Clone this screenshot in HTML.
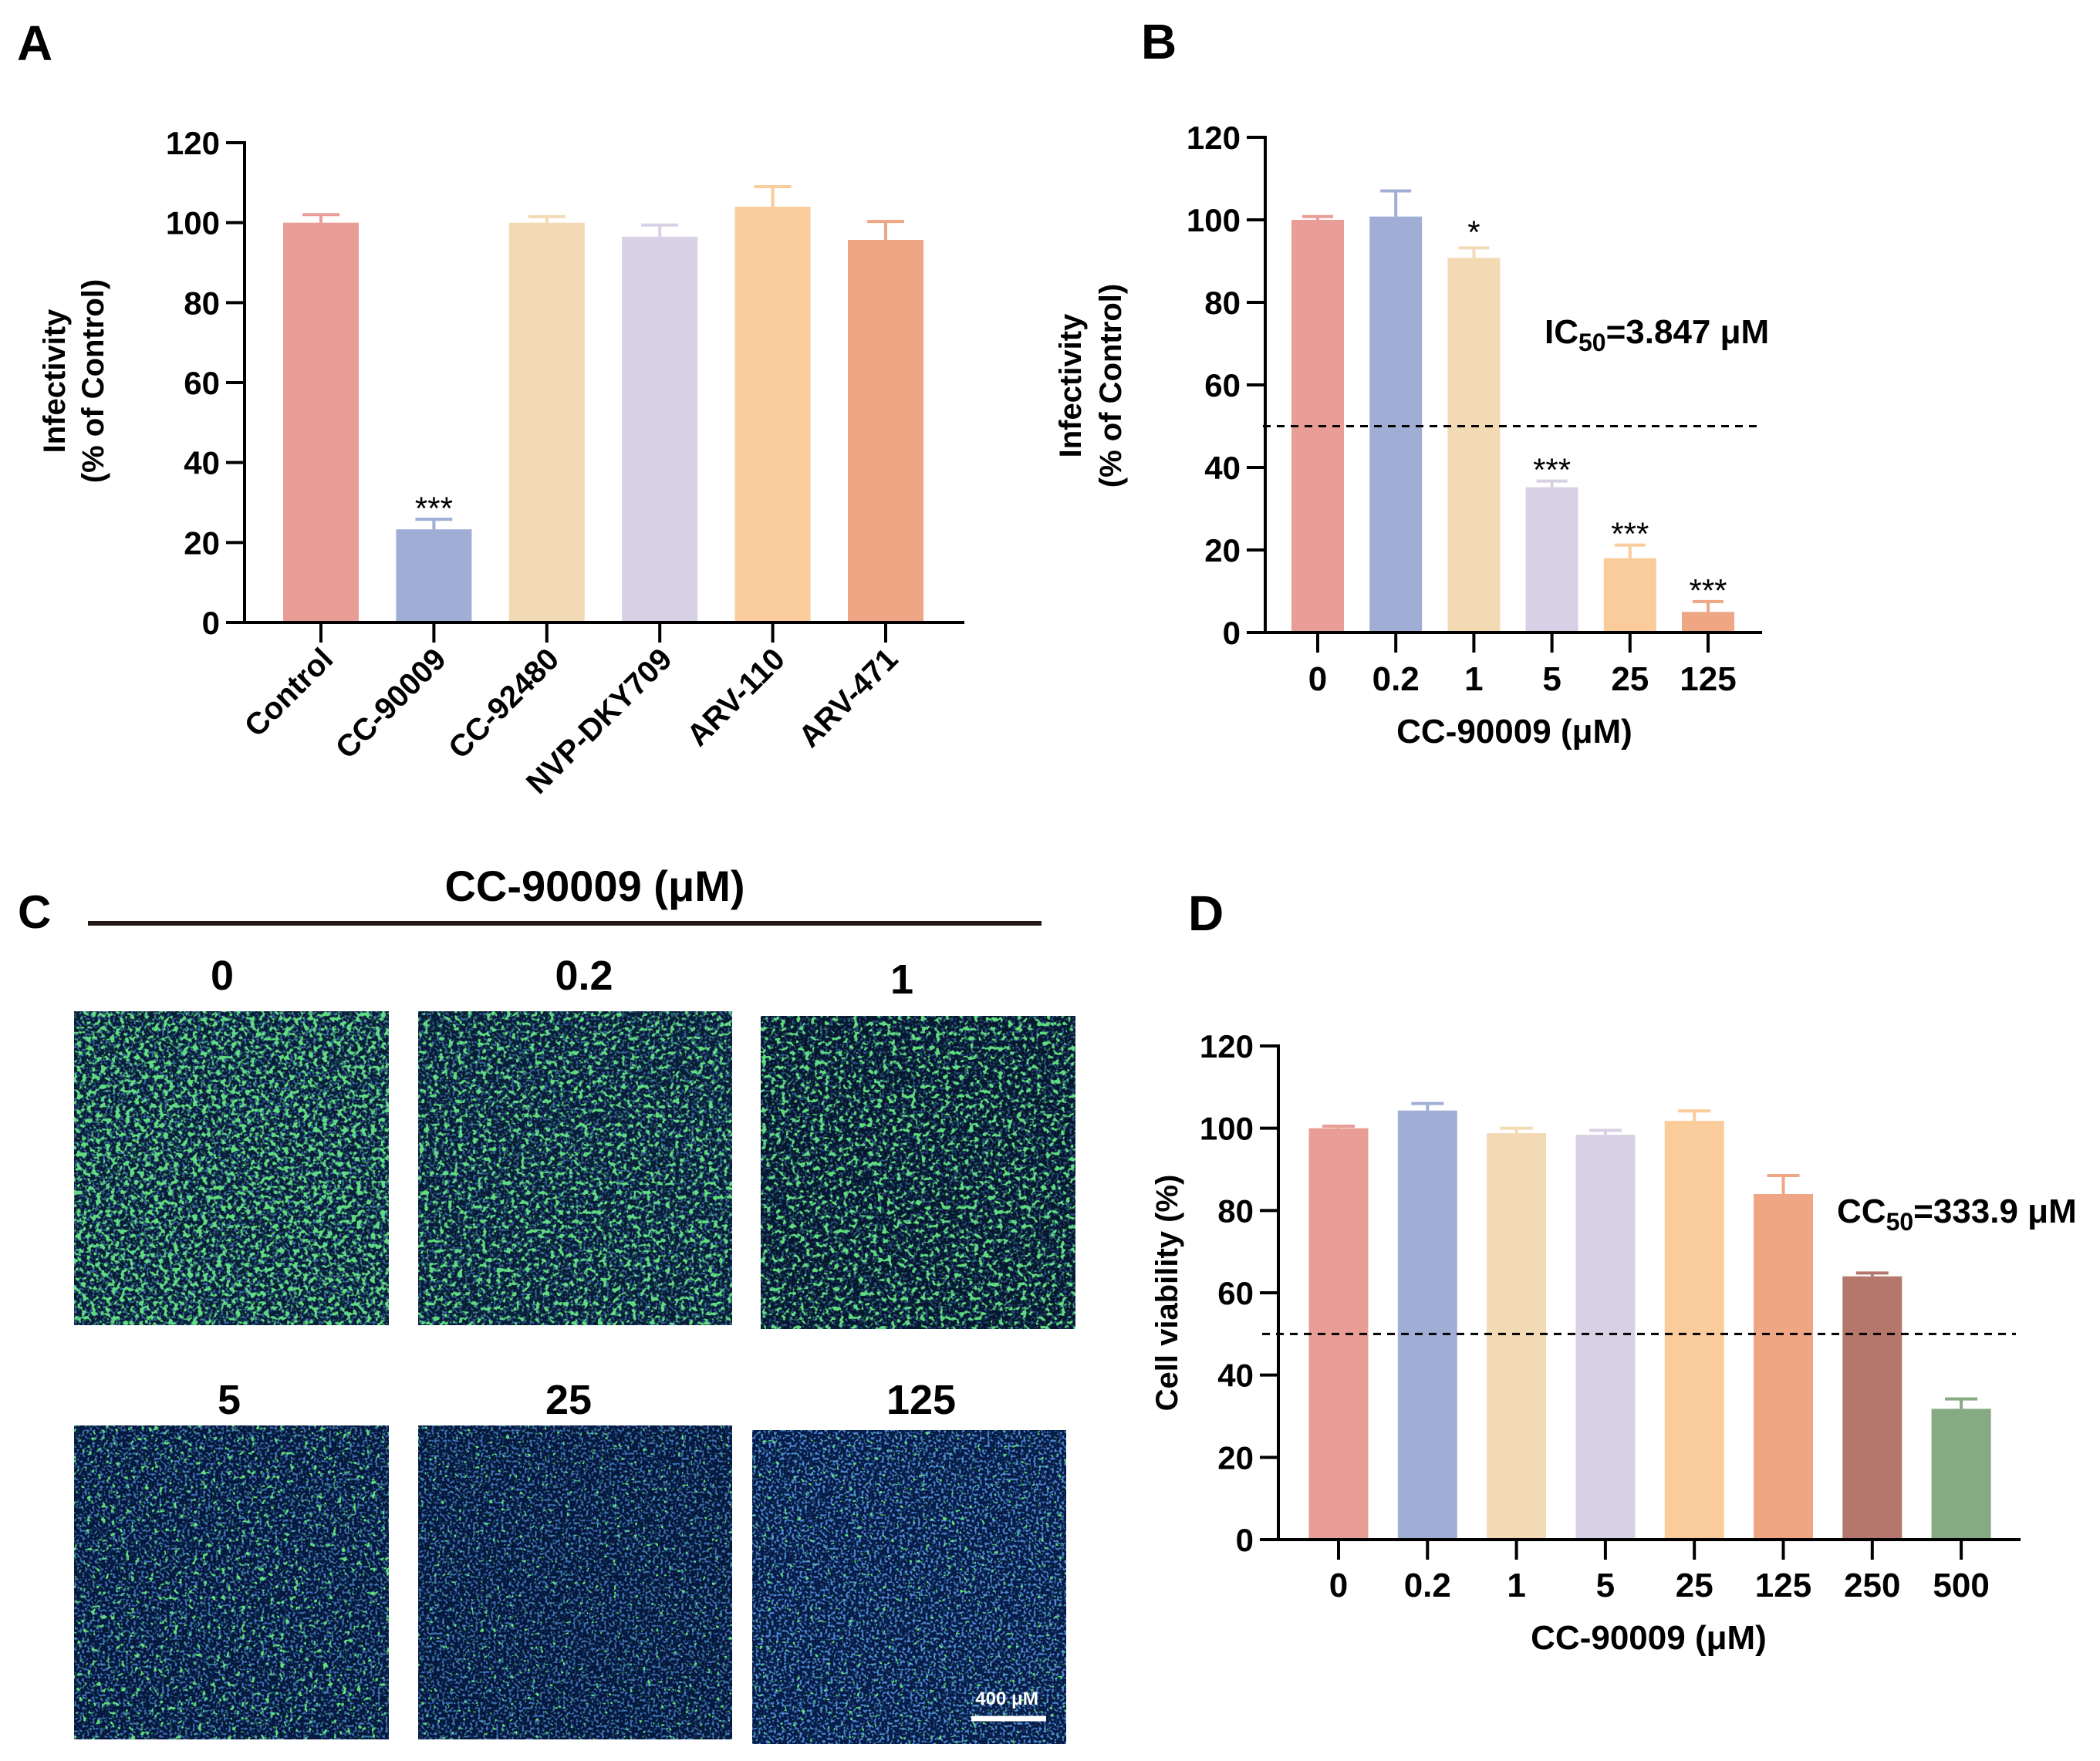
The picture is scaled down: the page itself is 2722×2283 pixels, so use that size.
<!DOCTYPE html>
<html><head><meta charset="utf-8">
<style>
html,body{margin:0;padding:0;background:#fff;}
svg{display:block;}
text{font-family:"Liberation Sans",Arial,sans-serif;font-weight:bold;fill:#000;}
</style></head>
<body>
<svg id="fig" width="2722" height="2283" viewBox="0 0 2722 2283" xmlns="http://www.w3.org/2000/svg">
<defs>
  <filter id="fb" x="0" y="0" width="100%" height="100%">
    <feTurbulence type="fractalNoise" baseFrequency="0.3" numOctaves="1" seed="3"/>
    <feColorMatrix type="matrix" values="0 0 0 0 0.08  0 0 0 0 0.25  0 0 0 0 0.65  6 0 0 0 -3.0"/>
  </filter>
  <filter id="g1" x="0" y="0" width="100%" height="100%">
    <feTurbulence type="fractalNoise" baseFrequency="0.16" numOctaves="2" seed="7"/>
    <feColorMatrix type="matrix" values="0 0 0 0 0.12  0 0 0 0 0.72  0 0 0 0 0.22  9 0 0 0 -4.7"/>
  </filter>
  <filter id="g2" x="0" y="0" width="100%" height="100%">
    <feTurbulence type="fractalNoise" baseFrequency="0.16" numOctaves="2" seed="11"/>
    <feColorMatrix type="matrix" values="0 0 0 0 0.12  0 0 0 0 0.72  0 0 0 0 0.22  9 0 0 0 -5.0"/>
  </filter>
  <filter id="g3" x="0" y="0" width="100%" height="100%">
    <feTurbulence type="fractalNoise" baseFrequency="0.16" numOctaves="2" seed="19"/>
    <feColorMatrix type="matrix" values="0 0 0 0 0.12  0 0 0 0 0.75  0 0 0 0 0.2  10 0 0 0 -6.2"/>
  </filter>
  <filter id="g4" x="0" y="0" width="100%" height="100%">
    <feTurbulence type="fractalNoise" baseFrequency="0.18" numOctaves="2" seed="23"/>
    <feColorMatrix type="matrix" values="0 0 0 0 0.12  0 0 0 0 0.75  0 0 0 0 0.2  12 0 0 0 -8.2"/>
  </filter>
</defs>

<text x="22" y="78" font-size="64">A</text>
<text x="1479" y="76" font-size="64">B</text>
<text x="23" y="1203" font-size="60">C</text>
<text x="1540" y="1206" font-size="64">D</text>

<g id="panelC">
  <text x="771" y="1168" font-size="56" text-anchor="middle">CC-90009 (μM)</text>
  <line x1="114" y1="1197" x2="1350" y2="1197" stroke="#231815" stroke-width="6"/>
  <text x="288" y="1283" font-size="54" text-anchor="middle">0</text>
  <text x="757" y="1283" font-size="54" text-anchor="middle">0.2</text>
  <text x="1169" y="1288" font-size="54" text-anchor="middle">1</text>
  <text x="297" y="1833" font-size="54" text-anchor="middle">5</text>
  <text x="737" y="1833" font-size="54" text-anchor="middle">25</text>
  <text x="1194" y="1833" font-size="54" text-anchor="middle">125</text>
</g>

<g id="panelA"></g>
<g id="panelB"></g>
<g id="panelD"></g>
</svg>

<script>
// ---------- Panel A data ----------
const aCategories = ["Control","CC-90009","CC-92480","NVP-DKY709","ARV-110","ARV-471"];
const aValues = [100, 23.3, 100, 96.5, 104, 95.7];
const aErrors = [2, 2.5, 1.5, 2.9, 5, 4.6];
const aSig = ["", "***", "", "", "", ""];
// ---------- Panel B data ----------
const bCategories = ["0","0.2","1","5","25","125"];
const bValues = [100, 100.8, 90.8, 35.2, 18, 5];
const bErrors = [0.8, 6.2, 2.4, 1.5, 3.2, 2.5];
const bSig = ["", "", "*", "***", "***", "***"];
// ---------- Panel D data ----------
const dCategories = ["0","0.2","1","5","25","125","250","500"];
const dValues = [100, 104.3, 98.8, 98.4, 101.8, 84, 64, 31.8];
const dErrors = [0.5, 1.7, 1.2, 1.1, 2.4, 4.5, 0.8, 2.4];
// ---------- Shared ----------
const yTicks = [0, 20, 40, 60, 80, 100, 120];
const threshold = 50;

const palette = ["#e89d96","#a0aed6","#f2dab5","#d8d0e4","#fbcc9b","#eea685","#b5766b","#86aa82"];
const NS = "http://www.w3.org/2000/svg";
function mk(parent, tag, attrs, txt){
  const e = document.createElementNS(NS, tag);
  for (const k in attrs) e.setAttribute(k, attrs[k]);
  if (txt !== undefined) e.textContent = txt;
  parent.appendChild(e);
  return e;
}

function drawChart(g, cfg, cats, vals, errs, sig, prefix){
  const yScale = v => cfg.y0 + (cfg.y120 - cfg.y0) * v / 120;
  const xScale = i => cfg.x0 + cfg.pad + i * cfg.step;
  cats.forEach((c, i) => {
    const cx = xScale(i), v = vals[i], col = palette[i];
    const bar = mk(g, "rect", {x: cx - cfg.bw/2, y: yScale(v), width: cfg.bw, height: cfg.y0 - yScale(v), fill: col});
    
    
    const ey = yScale(v + errs[i]);
    const eb = mk(g, "path", {d: `M${cx},${yScale(v)} V${ey} M${cx-cfg.cap/2},${ey} H${cx+cfg.cap/2}`, stroke: col, "stroke-width": 4, fill: "none"});
    
    
    if (sig && sig[i]) {
      const st = mk(g, "text", {x: cx, y: ey - 6 + (sig[i] === "*" ? 0 : 6), "font-size": 42, "text-anchor":"middle", style:"font-weight:normal"}, sig[i]);
      
      
    }
    const xt = mk(g, "line", {x1: cx, y1: cfg.y0, x2: cx, y2: cfg.y0 + 26, stroke: "#000", "stroke-width": 4});
    
    
    let lab;
    if (cfg.rotate) {
      lab = mk(g, "text", {x: cx + 18, y: cfg.y0 + 50, "font-size": 40, "text-anchor": "end", transform: `rotate(-45 ${cx + 18} ${cfg.y0 + 50})`}, c);
    } else {
      lab = mk(g, "text", {x: cx, y: cfg.labY, "font-size": 44, "text-anchor": "middle"}, c);
    }
    
    
  });
  const ya = mk(g, "line", {x1: cfg.x0, y1: cfg.y0 + 2, x2: cfg.x0, y2: cfg.y120 - 2, stroke: "#000", "stroke-width": 4});
  
  
  const xa = mk(g, "line", {x1: cfg.x0 - 24, y1: cfg.y0, x2: cfg.x1, y2: cfg.y0, stroke: "#000", "stroke-width": 4});
  
  
  yTicks.forEach(t => {
    const y = yScale(t);
    const tl = mk(g, "line", {x1: cfg.x0 - 24, y1: y, x2: cfg.x0, y2: y, stroke: "#000", "stroke-width": 4});
    
    
    const tt = mk(g, "text", {x: cfg.x0 - 32, y: y + 15, "font-size": 42, "text-anchor": "end"}, String(t));
    
    
  });
  if (cfg.dash) {
    const dl = mk(g, "line", {x1: cfg.dash[0], y1: yScale(threshold), x2: cfg.dash[1], y2: yScale(threshold), stroke: "#000", "stroke-width": 3, "stroke-dasharray": "10 8"});
    
    
  }
}

const gA = document.getElementById("panelA");
drawChart(gA, {x0:317, x1:1250, y0:807, y120:185, pad:99, step:146.4, bw:98, cap:48, rotate:true}, aCategories, aValues, aErrors, aSig, "a");
const aT1 = mk(gA, "text", {x:84, y:494, "font-size":40, "text-anchor":"middle", transform:"rotate(-90 84 494)"}, "Infectivity");


const aT2 = mk(gA, "text", {x:134, y:494, "font-size":40, "text-anchor":"middle", transform:"rotate(-90 134 494)"}, "(% of Control)");



const gB = document.getElementById("panelB");
drawChart(gB, {x0:1640, x1:2284, y0:820, y120:178, pad:68, step:101.2, bw:68, cap:40, labY:895, dash:[1637,2277]}, bCategories, bValues, bErrors, bSig, "b");
const bT1 = mk(gB, "text", {x:1401, y:500, "font-size":40, "text-anchor":"middle", transform:"rotate(-90 1401 500)"}, "Infectivity");


const bT2 = mk(gB, "text", {x:1453, y:500, "font-size":40, "text-anchor":"middle", transform:"rotate(-90 1453 500)"}, "(% of Control)");


const bX = mk(gB, "text", {x:1963, y:963, "font-size":44, "text-anchor":"middle"}, "CC-90009 (μM)");


const ic = mk(gB, "text", {x:2002, y:445, "font-size":44});


ic.innerHTML = 'IC<tspan dy="10" font-size="32">50</tspan><tspan dy="-10">=3.847 μM</tspan>';

const gD = document.getElementById("panelD");
drawChart(gD, {x0:1657, x1:2619, y0:1996, y120:1356, pad:78, step:115.3, bw:77, cap:42, labY:2070, dash:[1636,2613]}, dCategories, dValues, dErrors, null, "d");
const dT = mk(gD, "text", {x:1526, y:1676, "font-size":40, "text-anchor":"middle", transform:"rotate(-90 1526 1676)"}, "Cell viability (%)");


const dX = mk(gD, "text", {x:2137, y:2138, "font-size":44, "text-anchor":"middle"}, "CC-90009 (μM)");


const cc = mk(gD, "text", {x:2381, y:1585, "font-size":44});


cc.innerHTML = 'CC<tspan dy="10" font-size="32">50</tspan><tspan dy="-10">=333.9 μM</tspan>';

const gC = document.getElementById("panelC");
const imgs = [
  {x:96, y:1311, w:408, h:407, f:["g1"], bg:"#071c33", bo:0.7},
  {x:542, y:1311, w:407, h:407, f:["g2"], bg:"#071c33", bo:0.65},
  {x:986, y:1317, w:408, h:406, f:["g2"], bg:"#05162c", bo:0.5},
  {x:96, y:1848, w:408, h:407, f:["g3"], bg:"#04173a", bo:0.8},
  {x:542, y:1848, w:407, h:407, f:["g4"], bg:"#04173a", bo:0.8},
  {x:975, y:1854, w:407, h:407, f:["g4"], bg:"#051a44", bo:1}
];
imgs.forEach((m, i) => {
  const grp = mk(gC, "g", {});
  
  
  mk(grp, "rect", {x:m.x, y:m.y, width:m.w, height:m.h, fill: m.bg});
  mk(grp, "rect", {x:m.x, y:m.y, width:m.w, height:m.h, filter:"url(#fb)", opacity: m.bo});
  m.f.forEach(f => mk(grp, "rect", {x:m.x, y:m.y, width:m.w, height:m.h, filter:`url(#${f})`}));
});
const sb = mk(gC, "line", {x1:1259, y1:2228, x2:1356, y2:2228, stroke:"#fff", "stroke-width":7});


const sbt = mk(gC, "text", {x:1305, y:2210, "font-size":24, "text-anchor":"middle", style:"fill:#fff"}, "400 μM");


</script>
</body></html>
